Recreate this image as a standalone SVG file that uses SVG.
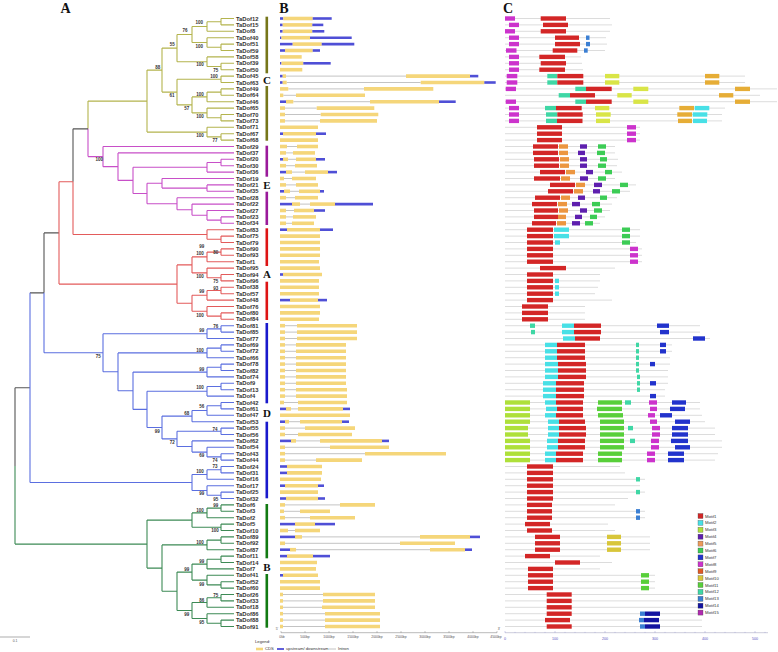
<svg xmlns="http://www.w3.org/2000/svg" width="778" height="652" viewBox="0 0 778 652">
<style>
.t{font:bold 5.8px "Liberation Sans",Arial,sans-serif;fill:#333}
.bs{font:bold 4.5px "Liberation Sans",Arial,sans-serif;fill:#333;text-anchor:middle}
.hd{font:bold 14px "Liberation Serif","Times New Roman",serif;fill:#111;text-anchor:middle}
.cl{font:bold 11px "Liberation Serif","Times New Roman",serif;fill:#111;text-anchor:middle}
.sm{font:3.4px "Liberation Sans",Arial,sans-serif;fill:#555;text-anchor:middle}
.sb{font:3.6px "Liberation Sans",Arial,sans-serif;fill:#5555c0;text-anchor:middle}
.lg{font:4.2px "Liberation Sans",Arial,sans-serif;fill:#333}
.tr{fill:none;stroke-width:1.1}
line.c{stroke:#f5d67a;stroke-width:3.6}
line.u{stroke:#4f4fd6;stroke-width:2.6}
line.i{stroke:#9a9a9a;stroke-width:0.6}
line.p{stroke:#c4c4c4;stroke-width:0.6}
line.m1,line.m2,line.m3,line.m4,line.m5,line.m6,line.m7,line.m8,line.m10,line.m11,line.m12,line.m13,line.m14,line.og,line.yl{stroke-width:4.4}
.m1{stroke:#d32626}.m2{stroke:#48e0e6}.m3{stroke:#aee03a}.m4{stroke:#5e1fae}.m5{stroke:#ec9640}.m6{stroke:#3ccc55}.m7{stroke:#2233cc}.m8{stroke:#cc33cc}.m10{stroke:#d8c63a}.m11{stroke:#58cf3a}.m12{stroke:#3fd7a5}.m13{stroke:#3b7fd3}.m14{stroke:#1414a0}.og{stroke:#e6ad36}.yl{stroke:#d9e547}
.lb{stroke:#444;stroke-width:0.3}
</style>
<rect width="778" height="652" fill="#fff"/>
<text class="hd" x="65.5" y="12.5">A</text>
<text class="hd" x="284" y="12.5">B</text>
<text class="hd" x="508" y="12.5">C</text>

<g id="connectors">
<path class="tr" stroke="#b4b44e" d="M221 18.5V24.9M221 18.5H234M221 24.9H234M207 21.7V31.3M207 21.7H221M207 31.3H234M221 44.1V50.5M221 44.1H234M221 50.5H234M207 37.7V47.3M207 37.7H234M207 47.3H221M192 26.5V42.5M192 26.5H207M192 42.5H207M221 63.3V69.7M221 63.3H234M221 69.7H234M207 56.9V66.5M207 56.9H234M207 66.5H221M177 34.5V61.7M177 34.5H192M177 61.7H207M221 76.1V82.5M221 76.1H234M221 82.5H234M221 88.9V95.3M221 88.9H234M221 95.3H234M207 92.1V101.7M207 92.1H221M207 101.7H234M221 114.5V120.9M221 114.5H234M221 120.9H234M207 108.1V117.7M207 108.1H234M207 117.7H221M192 96.9V112.9M192 96.9H207M192 112.9H207M177 79.3V104.9M177 79.3H221M177 104.9H192M162 48.1V92.1M162 48.1H177M162 92.1H177M221 133.7V140.1M221 133.7H234M221 140.1H234M207 127.3V136.9M207 127.3H234M207 136.9H221M147 70.1V132.1M147 70.1H162M147 132.1H207M88 101.1V128.85M88 101.1H147"/>
<path class="tr" stroke="#c84fc8" d="M221 159.3V165.7M221 159.3H234M221 165.7H234M207 162.5V172.1M207 162.5H221M207 172.1H234M207 184.9V191.3M207 184.9H234M207 191.3H234M162 178.5V188.1M162 178.5H234M162 188.1H207M221 216.9V223.3M221 216.9H234M221 223.3H234M207 210.5V220.1M207 210.5H234M207 220.1H221M192 204.1V215.3M192 204.1H234M192 215.3H207M177 197.7V209.7M177 197.7H234M177 209.7H192M147 183.3V203.7M147 183.3H162M147 203.7H177M133 167.3V193.5M133 167.3H207M133 193.5H147M118 152.9V180.4M118 152.9H234M118 180.4H133M103 146.5V166.65M103 146.5H234M103 166.65H118M88 128.85V156.6M88 156.6H103"/>
<path class="tr" stroke="#555" d="M73 128.85H88M73 128.85V181.7M44 232.9H59M44 232.9V292.85M30 292.85H44M15 387.7H30M15 387.7V465.9"/>
<path class="tr" stroke="#e35b5b" d="M73 181.7V234.5M73 234.5H207M221 236.1V242.5M221 236.1H234M221 242.5H234M207 229.7V239.3M207 229.7H234M207 239.3H221M221 248.9V255.3M221 248.9H234M221 255.3H234M207 252.1V261.7M207 252.1H221M207 261.7H234M221 274.5V280.9M221 274.5H234M221 280.9H234M207 268.1V277.7M207 268.1H234M207 277.7H221M192 256.9V272.9M192 256.9H207M192 272.9H207M221 287.3V293.7M221 287.3H234M221 293.7H234M207 290.5V300.1M207 290.5H221M207 300.1H234M221 312.9V319.3M221 312.9H234M221 319.3H234M207 306.5V316.1M207 306.5H234M207 316.1H221M192 295.3V311.3M192 295.3H207M192 311.3H207M177 264.9V303.3M177 264.9H192M177 303.3H192M59 181.7V284.1M59 181.7H73M59 284.1H177"/>
<path class="tr" stroke="#5b6fe0" d="M44 292.85V352.75M44 352.75H103M221 325.7V332.1M221 325.7H234M221 332.1H234M207 328.9V338.5M207 328.9H221M207 338.5H234M221 344.9V351.3M221 344.9H234M221 351.3H234M207 348.1V357.7M207 348.1H221M207 357.7H234M221 364.1V370.5M221 364.1H234M221 370.5H234M207 367.3V376.9M207 367.3H221M207 376.9H234M221 383.3V389.7M221 383.3H234M221 389.7H234M207 386.5V396.1M207 386.5H221M207 396.1H234M221 402.5V408.9M221 402.5H234M221 408.9H234M207 405.7V415.3M207 405.7H221M207 415.3H234M192 410.5V421.7M192 410.5H207M192 421.7H234M221 428.1V434.5M221 428.1H234M221 434.5H234M221 453.7V460.1M221 453.7H234M221 460.1H234M207 447.3V456.9M207 447.3H234M207 456.9H221M192 440.9V452.1M192 440.9H234M192 452.1H207M177 431.3V446.5M177 431.3H221M177 446.5H192M162 416.1V438.9M162 416.1H192M162 438.9H177M147 391.3V427.5M147 391.3H207M147 427.5H162M133 372.1V409.4M133 372.1H207M133 409.4H147M118 352.9V390.75M118 352.9H207M118 390.75H133M103 333.7V371.8M103 333.7H207M103 371.8H118M221 466.5V472.9M221 466.5H234M221 472.9H234M207 469.7V479.3M207 469.7H221M207 479.3H234M221 492.1V498.5M221 492.1H234M221 498.5H234M207 485.7V495.3M207 485.7H234M207 495.3H221M192 474.5V490.5M192 474.5H207M192 490.5H207M30 292.85V482.5M30 482.5H192"/>
<path class="tr" stroke="#3d8a55" d="M221 504.9V511.3M221 504.9H234M221 511.3H234M207 508.1V517.7M207 508.1H221M207 517.7H234M221 524.1V530.5M221 524.1H234M221 530.5H234M192 512.9V527.3M192 512.9H207M192 527.3H221M221 536.9V543.3M221 536.9H234M221 543.3H234M207 540.1V549.7M207 540.1H221M207 549.7H234M221 556.1V562.5M221 556.1H234M221 562.5H234M207 559.3V568.9M207 559.3H221M207 568.9H234M221 581.7V588.1M221 581.7H234M221 588.1H234M207 575.3V584.9M207 575.3H234M207 584.9H221M192 564.1V580.1M192 564.1H207M192 580.1H207M221 594.5V600.9M221 594.5H234M221 600.9H234M207 597.7V607.3M207 597.7H221M207 607.3H234M221 620.1V626.5M221 620.1H234M221 626.5H234M207 613.7V623.3M207 613.7H234M207 623.3H221M192 602.5V618.5M192 602.5H207M192 618.5H207M177 572.1V610.5M177 572.1H192M177 610.5H192M162 544.9V591.3M162 544.9H207M162 591.3H177M147 520.1V568.1M147 520.1H192M147 568.1H162M15 465.9V544.1M15 544.1H147"/>
</g>

<g id="bootstrap">
<text class="bs" x="199.3" y="23.8">100</text><text class="bs" x="185" y="31.5">76</text><text class="bs" x="172.3" y="46.2">55</text><text class="bs" x="199.3" y="47.5">100</text><text class="bs" x="157.7" y="68.5">88</text><text class="bs" x="200" y="65.8">100</text><text class="bs" x="215.7" y="71.5">75</text><text class="bs" x="214" y="77.8">100</text><text class="bs" x="172" y="96.8">61</text><text class="bs" x="200" y="95.8">100</text><text class="bs" x="186.7" y="109.5">57</text><text class="bs" x="200" y="117.5">100</text><text class="bs" x="200" y="137.2">100</text><text class="bs" x="215" y="141.5">77</text><text class="bs" x="99.3" y="160.8">100</text>
<text class="bs" x="201.7" y="247.5">99</text><text class="bs" x="215.7" y="253.8">80</text><text class="bs" x="200" y="254.8">100</text><text class="bs" x="200" y="278.2">100</text><text class="bs" x="215.7" y="282.8">75</text><text class="bs" x="215.7" y="289.5">93</text><text class="bs" x="201.7" y="293.2">99</text><text class="bs" x="200" y="316.5">100</text>
<text class="bs" x="215.7" y="327.5">76</text><text class="bs" x="201.7" y="331.5">99</text><text class="bs" x="200" y="351.5">100</text><text class="bs" x="98.3" y="358.2">75</text><text class="bs" x="201.7" y="370.8">99</text><text class="bs" x="200" y="389.2">100</text><text class="bs" x="201.7" y="408.2">56</text><text class="bs" x="186.7" y="414.8">68</text><text class="bs" x="215" y="430.5">74</text><text class="bs" x="157.3" y="433.2">99</text>
<text class="bs" x="172.3" y="444.2">72</text><text class="bs" x="201.7" y="457.2">69</text><text class="bs" x="215" y="462.2">74</text><text class="bs" x="215" y="468.2">73</text><text class="bs" x="200" y="473.2">100</text><text class="bs" x="201.7" y="494.8">99</text><text class="bs" x="215.7" y="500.5">95</text><text class="bs" x="215.7" y="506.5">99</text><text class="bs" x="200" y="512.2">100</text><text class="bs" x="215" y="531.5">100</text>
<text class="bs" x="200" y="543.8">100</text><text class="bs" x="201.7" y="562.5">99</text><text class="bs" x="186.7" y="570.8">99</text><text class="bs" x="201.7" y="585.8">99</text><text class="bs" x="215.7" y="596.5">75</text><text class="bs" x="201.7" y="601.5">86</text><text class="bs" x="186.7" y="615.8">99</text><text class="bs" x="201.7" y="623.8">95</text>
</g>

<g id="clades">
<rect x="265.5" y="16.7" width="2.6" height="56.6" fill="#76761a"/><rect x="265.5" y="86" width="2.6" height="54.7" fill="#76761a"/><text class="cl" x="267" y="83.5">C</text>
<rect x="265.5" y="145.7" width="2.6" height="31" fill="#9a1a9a"/><rect x="265.5" y="191.7" width="2.6" height="33.3" fill="#9a1a9a"/><text class="cl" x="267" y="188.5">E</text>
<rect x="265.5" y="228.3" width="2.6" height="37.7" fill="#dd1414"/><rect x="265.5" y="281.7" width="2.6" height="38.3" fill="#dd1414"/><text class="cl" x="267" y="277.5">A</text>
<rect x="265.5" y="323" width="2.6" height="80.3" fill="#1a1acc"/><rect x="265.5" y="421.7" width="2.6" height="76.6" fill="#1a1acc"/><text class="cl" x="267" y="416.5">D</text>
<rect x="265.5" y="504" width="2.6" height="54.3" fill="#127a12"/><rect x="265.5" y="574" width="2.6" height="53.7" fill="#127a12"/><text class="cl" x="267" y="570.5">B</text>
</g>

<g id="TaDof12" transform="translate(0 18.5)"><text class="t" x="236" y="2">TaDof12</text><line class="u" x1="280" x2="283.3"/><line class="c" x1="283.3" x2="312.7"/><line class="u" x1="312.7" x2="331.7"/><line class="p" x1="505" x2="610"/><line class="m8" x1="505" x2="515"/><line class="m1" x1="540.7" x2="566"/></g>
<g id="TaDof15" transform="translate(0 24.9)"><text class="t" x="236" y="2">TaDof15</text><line class="u" x1="280" x2="282.7"/><line class="c" x1="282.7" x2="312.3"/><line class="u" x1="312.3" x2="323.3"/><line class="p" x1="505" x2="612"/><line class="m8" x1="509" x2="519"/><line class="m1" x1="543" x2="568"/></g>
<g id="TaDof8" transform="translate(0 31.3)"><text class="t" x="236" y="2">TaDof8</text><line class="u" x1="280" x2="282.7"/><line class="c" x1="282.7" x2="312.3"/><line class="u" x1="312.3" x2="324.3"/><line class="p" x1="505" x2="610"/><line class="m8" x1="505" x2="515"/><line class="m1" x1="540.7" x2="566"/></g>
<g id="TaDof40" transform="translate(0 37.7)"><text class="t" x="236" y="2">TaDof40</text><line class="u" x1="280" x2="281.5"/><line class="c" x1="281.5" x2="310"/><line class="u" x1="310" x2="351.7"/><line class="p" x1="505" x2="606"/><line class="m8" x1="509" x2="519"/><line class="m1" x1="555" x2="579"/><line class="m13" x1="586" x2="589.5"/></g>
<g id="TaDof51" transform="translate(0 44.1)"><text class="t" x="236" y="2">TaDof51</text><line class="u" x1="280" x2="292.7"/><line class="c" x1="292.7" x2="321.7"/><line class="u" x1="321.7" x2="354.3"/><line class="p" x1="505" x2="607"/><line class="m8" x1="509" x2="519"/><line class="m1" x1="555" x2="580"/><line class="m13" x1="586" x2="590"/></g>
<g id="TaDof59" transform="translate(0 50.5)"><text class="t" x="236" y="2">TaDof59</text><line class="u" x1="280" x2="285"/><line class="c" x1="285" x2="312.7"/><line class="u" x1="312.7" x2="320"/><line class="p" x1="505" x2="605"/><line class="m8" x1="506" x2="516.5"/><line class="m1" x1="552.7" x2="577.3"/><line class="m13" x1="584" x2="587.7"/></g>
<g id="TaDof58" transform="translate(0 56.9)"><text class="t" x="236" y="2">TaDof58</text><line class="c" x1="280" x2="301.7"/><line class="p" x1="505" x2="581"/><line class="m8" x1="509" x2="519"/><line class="m1" x1="539.3" x2="565"/></g>
<g id="TaDof39" transform="translate(0 63.3)"><text class="t" x="236" y="2">TaDof39</text><line class="u" x1="280" x2="281.5"/><line class="c" x1="281.5" x2="303.3"/><line class="u" x1="303.3" x2="330.7"/><line class="p" x1="505" x2="582"/><line class="m8" x1="509" x2="519"/><line class="m1" x1="540.7" x2="566"/></g>
<g id="TaDof50" transform="translate(0 69.7)"><text class="t" x="236" y="2">TaDof50</text><line class="c" x1="280" x2="302.3"/><line class="p" x1="505" x2="583"/><line class="m8" x1="509" x2="519"/><line class="m1" x1="539.3" x2="565"/></g>
<g id="TaDof45" transform="translate(0 76.1)"><text class="t" x="236" y="2">TaDof45</text><line class="i" x1="286" x2="406"/><line class="u" x1="280" x2="282.7"/><line class="c" x1="282.7" x2="286"/><line class="c" x1="406" x2="470"/><line class="u" x1="470" x2="478.3"/><line class="p" x1="505" x2="745"/><line class="m8" x1="506.7" x2="517.3"/><line class="m12" x1="547.3" x2="557.3"/><line class="m1" x1="557.3" x2="583.3"/><line class="yl" x1="605" x2="619.3"/><line class="og" x1="705" x2="719.3"/></g>
<g id="TaDof63" transform="translate(0 82.5)"><text class="t" x="236" y="2">TaDof63</text><line class="i" x1="286.7" x2="420.7"/><line class="u" x1="280" x2="282.7"/><line class="c" x1="282.7" x2="286.7"/><line class="c" x1="420.7" x2="484.3"/><line class="u" x1="484.3" x2="495.7"/><line class="p" x1="505" x2="745"/><line class="m8" x1="506.7" x2="517.3"/><line class="m12" x1="547.3" x2="557.3"/><line class="m1" x1="557.3" x2="583.3"/><line class="yl" x1="605" x2="619.3"/><line class="og" x1="705" x2="719.3"/></g>
<g id="TaDof49" transform="translate(0 88.9)"><text class="t" x="236" y="2">TaDof49</text><line class="i" x1="288.3" x2="364"/><line class="c" x1="280" x2="288.3"/><line class="c" x1="364" x2="433.3"/><line class="p" x1="505" x2="777"/><line class="m8" x1="505.7" x2="516"/><line class="m12" x1="575.3" x2="586"/><line class="m1" x1="586" x2="611.7"/><line class="yl" x1="633.3" x2="648.3"/><line class="og" x1="735" x2="750"/></g>
<g id="TaDof64" transform="translate(0 95.3)"><text class="t" x="236" y="2">TaDof64</text><line class="i" x1="283.3" x2="296"/><line class="c" x1="280" x2="283.3"/><line class="c" x1="296" x2="365"/><line class="p" x1="505" x2="760"/><line class="m12" x1="558.7" x2="570"/><line class="m1" x1="570" x2="595"/><line class="yl" x1="617.3" x2="631.7"/><line class="og" x1="719" x2="733.3"/></g>
<g id="TaDof46" transform="translate(0 101.7)"><text class="t" x="236" y="2">TaDof46</text><line class="i" x1="293.3" x2="370"/><line class="u" x1="280" x2="286"/><line class="c" x1="286" x2="293.3"/><line class="c" x1="370" x2="439"/><line class="u" x1="439" x2="455.7"/><line class="p" x1="505" x2="777"/><line class="m8" x1="505.7" x2="516"/><line class="m12" x1="575.3" x2="586"/><line class="m1" x1="586" x2="611.7"/><line class="yl" x1="633.3" x2="648.3"/><line class="og" x1="735" x2="750"/></g>
<g id="TaDof65" transform="translate(0 108.1)"><text class="t" x="236" y="2">TaDof65</text><line class="i" x1="285" x2="316.7"/><line class="c" x1="280" x2="285"/><line class="c" x1="316.7" x2="374.3"/><line class="p" x1="505" x2="725"/><line class="m8" x1="509" x2="519"/><line class="m12" x1="545" x2="556"/><line class="m1" x1="556" x2="581.7"/><line class="yl" x1="595" x2="609.3"/><line class="og" x1="679.3" x2="694"/><line class="m2" x1="694.7" x2="709.3"/></g>
<g id="TaDof70" transform="translate(0 114.5)"><text class="t" x="236" y="2">TaDof70</text><line class="i" x1="285" x2="320.7"/><line class="c" x1="280" x2="285"/><line class="c" x1="320.7" x2="378.3"/><line class="p" x1="505" x2="722"/><line class="m8" x1="509" x2="519"/><line class="m12" x1="546" x2="557.3"/><line class="m1" x1="557.3" x2="582.7"/><line class="yl" x1="596" x2="610.7"/><line class="og" x1="677.3" x2="692"/><line class="m2" x1="692.7" x2="707.3"/></g>
<g id="TaDof73" transform="translate(0 120.9)"><text class="t" x="236" y="2">TaDof73</text><line class="i" x1="285" x2="320"/><line class="c" x1="280" x2="285"/><line class="c" x1="320" x2="377"/><line class="p" x1="505" x2="722"/><line class="m8" x1="509" x2="519"/><line class="m12" x1="546" x2="557"/><line class="m1" x1="557" x2="582.5"/><line class="yl" x1="596" x2="610"/><line class="og" x1="678" x2="692"/><line class="m2" x1="693" x2="707"/></g>
<g id="TaDof71" transform="translate(0 127.3)"><text class="t" x="236" y="2">TaDof71</text><line class="c" x1="280" x2="318"/><line class="p" x1="505" x2="640"/><line class="m1" x1="537" x2="562"/><line class="m8" x1="627" x2="636"/></g>
<g id="TaDof67" transform="translate(0 133.7)"><text class="t" x="236" y="2">TaDof67</text><line class="u" x1="280" x2="283"/><line class="c" x1="283" x2="316"/><line class="u" x1="316" x2="326"/><line class="p" x1="505" x2="640"/><line class="m1" x1="537" x2="562"/><line class="m8" x1="627" x2="636"/></g>
<g id="TaDof68" transform="translate(0 140.1)"><text class="t" x="236" y="2">TaDof68</text><line class="c" x1="280" x2="318"/><line class="p" x1="505" x2="640"/><line class="m1" x1="537" x2="562"/><line class="m8" x1="627" x2="636"/></g>
<g id="TaDof29" transform="translate(0 146.5)"><text class="t" x="236" y="2">TaDof29</text><line class="i" x1="287" x2="297"/><line class="c" x1="280" x2="287"/><line class="c" x1="297" x2="318"/><line class="p" x1="505" x2="615"/><line class="m1" x1="533" x2="558"/><line class="m5" x1="559" x2="568"/><line class="m4" x1="580" x2="587"/><line class="m6" x1="598" x2="606"/></g>
<g id="TaDof37" transform="translate(0 152.9)"><text class="t" x="236" y="2">TaDof37</text><line class="i" x1="286" x2="293"/><line class="c" x1="280" x2="286"/><line class="c" x1="293" x2="315"/><line class="p" x1="505" x2="615"/><line class="m1" x1="533" x2="558"/><line class="m5" x1="559" x2="568"/><line class="m4" x1="578" x2="585"/><line class="m6" x1="597" x2="605"/></g>
<g id="TaDof20" transform="translate(0 159.3)"><text class="t" x="236" y="2">TaDof20</text><line class="i" x1="288" x2="296"/><line class="u" x1="280" x2="283"/><line class="c" x1="283" x2="288"/><line class="c" x1="296" x2="316"/><line class="u" x1="316" x2="325"/><line class="p" x1="505" x2="618"/><line class="m1" x1="534" x2="559"/><line class="m5" x1="560" x2="569"/><line class="m4" x1="580" x2="587"/><line class="m6" x1="600" x2="607"/></g>
<g id="TaDof30" transform="translate(0 165.7)"><text class="t" x="236" y="2">TaDof30</text><line class="i" x1="286" x2="295"/><line class="c" x1="280" x2="286"/><line class="c" x1="295" x2="317"/><line class="p" x1="505" x2="617"/><line class="m1" x1="534" x2="559"/><line class="m5" x1="560" x2="569"/><line class="m4" x1="580" x2="587"/><line class="m6" x1="598" x2="606"/></g>
<g id="TaDof36" transform="translate(0 172.1)"><text class="t" x="236" y="2">TaDof36</text><line class="i" x1="292" x2="305"/><line class="u" x1="280" x2="286"/><line class="c" x1="286" x2="292"/><line class="c" x1="305" x2="328"/><line class="u" x1="328" x2="337"/><line class="p" x1="505" x2="622"/><line class="m1" x1="540" x2="565"/><line class="m5" x1="566" x2="575"/><line class="m4" x1="586" x2="593"/><line class="m6" x1="605" x2="612"/></g>
<g id="TaDof19" transform="translate(0 178.5)"><text class="t" x="236" y="2">TaDof19</text><line class="i" x1="284" x2="292"/><line class="c" x1="280" x2="284"/><line class="c" x1="292" x2="316"/><line class="p" x1="505" x2="615"/><line class="m1" x1="534" x2="560"/><line class="m5" x1="561" x2="570"/><line class="m4" x1="580" x2="588"/><line class="m6" x1="598" x2="606"/></g>
<g id="TaDof21" transform="translate(0 184.9)"><text class="t" x="236" y="2">TaDof21</text><line class="i" x1="286" x2="296"/><line class="c" x1="280" x2="286"/><line class="c" x1="296" x2="318"/><line class="p" x1="505" x2="636"/><line class="m1" x1="550" x2="575"/><line class="m5" x1="576" x2="585"/><line class="m4" x1="594" x2="602"/><line class="m6" x1="620" x2="628"/></g>
<g id="TaDof35" transform="translate(0 191.3)"><text class="t" x="236" y="2">TaDof35</text><line class="i" x1="290" x2="299"/><line class="u" x1="280" x2="284"/><line class="c" x1="284" x2="290"/><line class="c" x1="299" x2="320"/><line class="u" x1="320" x2="324"/><line class="p" x1="505" x2="630"/><line class="m1" x1="548" x2="573"/><line class="m5" x1="574" x2="583"/><line class="m4" x1="593" x2="600"/><line class="m6" x1="612" x2="620"/></g>
<g id="TaDof28" transform="translate(0 197.7)"><text class="t" x="236" y="2">TaDof28</text><line class="i" x1="286" x2="295"/><line class="c" x1="280" x2="286"/><line class="c" x1="295" x2="318"/><line class="p" x1="505" x2="617"/><line class="m1" x1="535" x2="560"/><line class="m5" x1="561" x2="570"/><line class="m4" x1="578" x2="585"/><line class="m6" x1="600" x2="607"/></g>
<g id="TaDof22" transform="translate(0 204.1)"><text class="t" x="236" y="2">TaDof22</text><line class="i" x1="300" x2="310"/><line class="u" x1="280" x2="292"/><line class="c" x1="292" x2="300"/><line class="c" x1="310" x2="335"/><line class="u" x1="335" x2="373"/><line class="p" x1="505" x2="612"/><line class="m1" x1="532" x2="557"/><line class="m5" x1="558" x2="567"/><line class="m4" x1="572" x2="580"/><line class="m6" x1="592" x2="600"/></g>
<g id="TaDof27" transform="translate(0 210.5)"><text class="t" x="236" y="2">TaDof27</text><line class="i" x1="286" x2="294"/><line class="c" x1="280" x2="286"/><line class="c" x1="294" x2="314"/><line class="u" x1="314" x2="325"/><line class="p" x1="505" x2="610"/><line class="m1" x1="534" x2="558"/><line class="m5" x1="559" x2="568"/><line class="m4" x1="580" x2="587"/><line class="m6" x1="594" x2="602"/></g>
<g id="TaDof23" transform="translate(0 216.9)"><text class="t" x="236" y="2">TaDof23</text><line class="i" x1="286" x2="293"/><line class="c" x1="280" x2="286"/><line class="c" x1="293" x2="316"/><line class="p" x1="505" x2="605"/><line class="m1" x1="534" x2="558"/><line class="m5" x1="558" x2="566"/><line class="m4" x1="575" x2="582"/><line class="m6" x1="590" x2="597"/></g>
<g id="TaDof34" transform="translate(0 223.3)"><text class="t" x="236" y="2">TaDof34</text><line class="i" x1="286" x2="292"/><line class="c" x1="280" x2="286"/><line class="c" x1="292" x2="314"/><line class="p" x1="505" x2="600"/><line class="m1" x1="532" x2="556"/><line class="m5" x1="557" x2="566"/><line class="m4" x1="572" x2="580"/><line class="m6" x1="585" x2="593"/></g>
<g id="TaDof83" transform="translate(0 229.7)"><text class="t" x="236" y="2">TaDof83</text><line class="u" x1="280" x2="287"/><line class="c" x1="287" x2="320"/><line class="u" x1="320" x2="333"/><line class="p" x1="505" x2="640"/><line class="m1" x1="527" x2="553"/><line class="m2" x1="554" x2="569"/><line class="m6" x1="622" x2="630"/></g>
<g id="TaDof75" transform="translate(0 236.1)"><text class="t" x="236" y="2">TaDof75</text><line class="c" x1="280" x2="320"/><line class="p" x1="505" x2="640"/><line class="m1" x1="527" x2="553"/><line class="m2" x1="554" x2="569"/><line class="m6" x1="622" x2="630"/></g>
<g id="TaDof79" transform="translate(0 242.5)"><text class="t" x="236" y="2">TaDof79</text><line class="c" x1="280" x2="320"/><line class="p" x1="505" x2="636"/><line class="m1" x1="527" x2="553"/><line class="m2" x1="555" x2="560"/><line class="m6" x1="622" x2="630"/></g>
<g id="TaDof90" transform="translate(0 248.9)"><text class="t" x="236" y="2">TaDof90</text><line class="c" x1="280" x2="320"/><line class="p" x1="505" x2="642"/><line class="m1" x1="527" x2="553"/><line class="m8" x1="630" x2="638"/></g>
<g id="TaDof93" transform="translate(0 255.3)"><text class="t" x="236" y="2">TaDof93</text><line class="c" x1="280" x2="320"/><line class="p" x1="505" x2="642"/><line class="m1" x1="527" x2="553"/><line class="m8" x1="630" x2="638"/></g>
<g id="TaDof1" transform="translate(0 261.7)"><text class="t" x="236" y="2">TaDof1</text><line class="c" x1="280" x2="319"/><line class="p" x1="505" x2="642"/><line class="m1" x1="527" x2="553"/><line class="m8" x1="630" x2="638"/></g>
<g id="TaDof95" transform="translate(0 268.1)"><text class="t" x="236" y="2">TaDof95</text><line class="c" x1="280" x2="320"/><line class="p" x1="505" x2="615"/><line class="m1" x1="540" x2="566"/></g>
<g id="TaDof94" transform="translate(0 274.5)"><text class="t" x="236" y="2">TaDof94</text><line class="u" x1="280" x2="283"/><line class="c" x1="283" x2="322"/><line class="p" x1="505" x2="600"/><line class="m1" x1="527" x2="553"/></g>
<g id="TaDof96" transform="translate(0 280.9)"><text class="t" x="236" y="2">TaDof96</text><line class="c" x1="280" x2="319"/><line class="p" x1="505" x2="600"/><line class="m1" x1="527" x2="553"/><line class="m2" x1="555" x2="559"/></g>
<g id="TaDof38" transform="translate(0 287.3)"><text class="t" x="236" y="2">TaDof38</text><line class="c" x1="280" x2="319"/><line class="p" x1="505" x2="598"/><line class="m1" x1="527" x2="553"/><line class="m2" x1="555" x2="559"/></g>
<g id="TaDof57" transform="translate(0 293.7)"><text class="t" x="236" y="2">TaDof57</text><line class="c" x1="280" x2="319"/><line class="p" x1="505" x2="595"/><line class="m1" x1="527" x2="553"/><line class="m2" x1="555" x2="559"/></g>
<g id="TaDof48" transform="translate(0 300.1)"><text class="t" x="236" y="2">TaDof48</text><line class="u" x1="280" x2="290"/><line class="c" x1="290" x2="318"/><line class="u" x1="318" x2="327"/><line class="p" x1="505" x2="612"/><line class="m1" x1="527" x2="553"/></g>
<g id="TaDof76" transform="translate(0 306.5)"><text class="t" x="236" y="2">TaDof76</text><line class="c" x1="280" x2="320"/><line class="p" x1="505" x2="585"/><line class="m1" x1="522" x2="548"/></g>
<g id="TaDof80" transform="translate(0 312.9)"><text class="t" x="236" y="2">TaDof80</text><line class="c" x1="280" x2="320"/><line class="p" x1="505" x2="585"/><line class="m1" x1="522" x2="548"/></g>
<g id="TaDof84" transform="translate(0 319.3)"><text class="t" x="236" y="2">TaDof84</text><line class="c" x1="280" x2="319"/><line class="p" x1="505" x2="585"/><line class="m1" x1="522" x2="548"/></g>
<g id="TaDof81" transform="translate(0 325.7)"><text class="t" x="236" y="2">TaDof81</text><line class="i" x1="285" x2="297"/><line class="c" x1="280" x2="285"/><line class="c" x1="297" x2="357"/><line class="p" x1="505" x2="700"/><line class="m12" x1="530" x2="535"/><line class="m2" x1="562" x2="574"/><line class="m1" x1="574" x2="601"/><line class="m7" x1="657" x2="669"/></g>
<g id="TaDof85" transform="translate(0 332.1)"><text class="t" x="236" y="2">TaDof85</text><line class="i" x1="285" x2="297"/><line class="c" x1="280" x2="285"/><line class="c" x1="297" x2="357"/><line class="p" x1="505" x2="700"/><line class="m12" x1="531" x2="535"/><line class="m2" x1="562" x2="574"/><line class="m1" x1="574" x2="601"/><line class="m7" x1="660" x2="669"/></g>
<g id="TaDof77" transform="translate(0 338.5)"><text class="t" x="236" y="2">TaDof77</text><line class="i" x1="285" x2="297"/><line class="c" x1="280" x2="285"/><line class="c" x1="297" x2="357"/><line class="p" x1="505" x2="710"/><line class="m2" x1="563" x2="575"/><line class="m1" x1="575" x2="600"/><line class="m7" x1="693" x2="705"/></g>
<g id="TaDof69" transform="translate(0 344.9)"><text class="t" x="236" y="2">TaDof69</text><line class="i" x1="285" x2="296"/><line class="c" x1="280" x2="285"/><line class="c" x1="296" x2="346"/><line class="p" x1="505" x2="672"/><line class="m2" x1="545" x2="557"/><line class="m1" x1="557" x2="585"/><line class="m12" x1="636" x2="639"/><line class="m7" x1="660" x2="666"/></g>
<g id="TaDof72" transform="translate(0 351.3)"><text class="t" x="236" y="2">TaDof72</text><line class="i" x1="285" x2="296"/><line class="c" x1="280" x2="285"/><line class="c" x1="296" x2="346"/><line class="p" x1="505" x2="672"/><line class="m2" x1="545" x2="557"/><line class="m1" x1="557" x2="585"/><line class="m12" x1="636" x2="639"/><line class="m7" x1="660" x2="666"/></g>
<g id="TaDof66" transform="translate(0 357.7)"><text class="t" x="236" y="2">TaDof66</text><line class="i" x1="285" x2="296"/><line class="c" x1="280" x2="285"/><line class="c" x1="296" x2="346"/><line class="p" x1="505" x2="670"/><line class="m2" x1="545" x2="557"/><line class="m1" x1="557" x2="585"/><line class="m12" x1="636" x2="639"/></g>
<g id="TaDof78" transform="translate(0 364.1)"><text class="t" x="236" y="2">TaDof78</text><line class="i" x1="285" x2="296"/><line class="c" x1="280" x2="285"/><line class="c" x1="296" x2="346"/><line class="p" x1="505" x2="670"/><line class="m2" x1="545" x2="558"/><line class="m1" x1="558" x2="586"/><line class="m12" x1="636" x2="639"/><line class="m7" x1="650" x2="655"/></g>
<g id="TaDof82" transform="translate(0 370.5)"><text class="t" x="236" y="2">TaDof82</text><line class="i" x1="285" x2="296"/><line class="c" x1="280" x2="285"/><line class="c" x1="296" x2="346"/><line class="p" x1="505" x2="668"/><line class="m2" x1="545" x2="558"/><line class="m1" x1="558" x2="586"/><line class="m12" x1="636" x2="639"/></g>
<g id="TaDof74" transform="translate(0 376.9)"><text class="t" x="236" y="2">TaDof74</text><line class="i" x1="285" x2="296"/><line class="c" x1="280" x2="285"/><line class="c" x1="296" x2="346"/><line class="p" x1="505" x2="668"/><line class="m2" x1="545" x2="558"/><line class="m1" x1="558" x2="586"/><line class="m12" x1="637" x2="640"/></g>
<g id="TaDof9" transform="translate(0 383.3)"><text class="t" x="236" y="2">TaDof9</text><line class="i" x1="285" x2="296"/><line class="c" x1="280" x2="285"/><line class="c" x1="296" x2="346"/><line class="p" x1="505" x2="668"/><line class="m2" x1="543" x2="556"/><line class="m1" x1="556" x2="584"/><line class="m12" x1="637" x2="640"/><line class="m7" x1="650" x2="656"/></g>
<g id="TaDof13" transform="translate(0 389.7)"><text class="t" x="236" y="2">TaDof13</text><line class="i" x1="285" x2="296"/><line class="c" x1="280" x2="285"/><line class="c" x1="296" x2="347"/><line class="p" x1="505" x2="665"/><line class="m2" x1="543" x2="556"/><line class="m1" x1="556" x2="584"/><line class="m12" x1="637" x2="640"/></g>
<g id="TaDof4" transform="translate(0 396.1)"><text class="t" x="236" y="2">TaDof4</text><line class="i" x1="285" x2="296"/><line class="c" x1="280" x2="285"/><line class="c" x1="296" x2="347"/><line class="p" x1="505" x2="665"/><line class="m2" x1="543" x2="556"/><line class="m1" x1="556" x2="584"/><line class="m7" x1="650" x2="656"/></g>
<g id="TaDof42" transform="translate(0 402.5)"><text class="t" x="236" y="2">TaDof42</text><line class="i" x1="284" x2="298"/><line class="c" x1="280" x2="284"/><line class="c" x1="298" x2="347"/><line class="p" x1="505" x2="700"/><line class="m3" x1="505" x2="530"/><line class="m2" x1="545" x2="556"/><line class="m1" x1="556" x2="583"/><line class="m11" x1="598" x2="622"/><line class="m12" x1="625" x2="631"/><line class="m8" x1="649" x2="657"/><line class="m7" x1="672" x2="686"/></g>
<g id="TaDof61" transform="translate(0 408.9)"><text class="t" x="236" y="2">TaDof61</text><line class="i" x1="291" x2="298"/><line class="u" x1="280" x2="286"/><line class="c" x1="286" x2="291"/><line class="c" x1="298" x2="343"/><line class="u" x1="343" x2="350"/><line class="p" x1="505" x2="700"/><line class="m3" x1="505" x2="530"/><line class="m2" x1="546" x2="557"/><line class="m1" x1="557" x2="583"/><line class="m11" x1="597" x2="622"/><line class="m8" x1="650" x2="657"/><line class="m7" x1="670" x2="685"/></g>
<g id="TaDof47" transform="translate(0 415.3)"><text class="t" x="236" y="2">TaDof47</text><line class="c" x1="280" x2="350"/><line class="p" x1="505" x2="702"/><line class="m3" x1="505" x2="530"/><line class="m2" x1="545" x2="556"/><line class="m1" x1="556" x2="583"/><line class="m11" x1="598" x2="623"/><line class="m8" x1="648" x2="655"/><line class="m7" x1="660" x2="672"/></g>
<g id="TaDof53" transform="translate(0 421.7)"><text class="t" x="236" y="2">TaDof53</text><line class="i" x1="289" x2="300"/><line class="u" x1="280" x2="285"/><line class="c" x1="285" x2="289"/><line class="c" x1="300" x2="342"/><line class="u" x1="342" x2="349"/><line class="p" x1="505" x2="705"/><line class="m3" x1="505" x2="530"/><line class="m2" x1="548" x2="559"/><line class="m1" x1="559" x2="585"/><line class="m11" x1="600" x2="624"/><line class="m8" x1="650" x2="657"/><line class="m7" x1="675" x2="690"/></g>
<g id="TaDof55" transform="translate(0 428.1)"><text class="t" x="236" y="2">TaDof55</text><line class="i" x1="285" x2="305"/><line class="c" x1="280" x2="285"/><line class="c" x1="305" x2="355"/><line class="p" x1="505" x2="715"/><line class="m3" x1="505" x2="528"/><line class="m2" x1="548" x2="559"/><line class="m1" x1="559" x2="586"/><line class="m11" x1="600" x2="624"/><line class="m12" x1="628" x2="633"/><line class="m8" x1="652" x2="660"/><line class="m7" x1="672" x2="688"/></g>
<g id="TaDof56" transform="translate(0 434.5)"><text class="t" x="236" y="2">TaDof56</text><line class="i" x1="285" x2="298"/><line class="c" x1="280" x2="285"/><line class="c" x1="298" x2="352"/><line class="p" x1="505" x2="715"/><line class="m3" x1="505" x2="528"/><line class="m2" x1="548" x2="559"/><line class="m1" x1="559" x2="586"/><line class="m11" x1="600" x2="624"/><line class="m8" x1="652" x2="660"/><line class="m7" x1="672" x2="688"/></g>
<g id="TaDof62" transform="translate(0 440.9)"><text class="t" x="236" y="2">TaDof62</text><line class="i" x1="296" x2="320"/><line class="u" x1="280" x2="291"/><line class="c" x1="291" x2="296"/><line class="c" x1="320" x2="382"/><line class="u" x1="382" x2="389"/><line class="p" x1="505" x2="722"/><line class="m3" x1="505" x2="530"/><line class="m2" x1="547" x2="558"/><line class="m1" x1="558" x2="585"/><line class="m11" x1="600" x2="624"/><line class="m12" x1="630" x2="635"/><line class="m8" x1="651" x2="659"/><line class="m7" x1="671" x2="688"/></g>
<g id="TaDof54" transform="translate(0 447.3)"><text class="t" x="236" y="2">TaDof54</text><line class="i" x1="285" x2="330"/><line class="c" x1="280" x2="285"/><line class="c" x1="330" x2="389"/><line class="p" x1="505" x2="722"/><line class="m3" x1="505" x2="530"/><line class="m2" x1="547" x2="558"/><line class="m1" x1="558" x2="585"/><line class="m11" x1="600" x2="624"/><line class="m8" x1="651" x2="659"/><line class="m7" x1="675" x2="690"/></g>
<g id="TaDof43" transform="translate(0 453.7)"><text class="t" x="236" y="2">TaDof43</text><line class="i" x1="285" x2="365"/><line class="c" x1="280" x2="285"/><line class="c" x1="365" x2="446"/><line class="p" x1="505" x2="718"/><line class="m3" x1="505" x2="530"/><line class="m2" x1="545" x2="556"/><line class="m1" x1="556" x2="583"/><line class="m11" x1="598" x2="622"/><line class="m8" x1="647" x2="655"/><line class="m7" x1="668" x2="684"/></g>
<g id="TaDof44" transform="translate(0 460.1)"><text class="t" x="236" y="2">TaDof44</text><line class="i" x1="285" x2="316"/><line class="c" x1="280" x2="285"/><line class="c" x1="316" x2="362"/><line class="p" x1="505" x2="715"/><line class="m3" x1="505" x2="530"/><line class="m2" x1="545" x2="556"/><line class="m1" x1="556" x2="583"/><line class="m11" x1="598" x2="622"/><line class="m8" x1="647" x2="655"/><line class="m7" x1="668" x2="684"/></g>
<g id="TaDof24" transform="translate(0 466.5)"><text class="t" x="236" y="2">TaDof24</text><line class="u" x1="280" x2="287"/><line class="c" x1="287" x2="322"/><line class="p" x1="505" x2="620"/><line class="m1" x1="527" x2="553"/></g>
<g id="TaDof31" transform="translate(0 472.9)"><text class="t" x="236" y="2">TaDof31</text><line class="u" x1="280" x2="287"/><line class="c" x1="287" x2="322"/><line class="p" x1="505" x2="625"/><line class="m1" x1="527" x2="553"/></g>
<g id="TaDof16" transform="translate(0 479.3)"><text class="t" x="236" y="2">TaDof16</text><line class="c" x1="280" x2="321"/><line class="p" x1="505" x2="645"/><line class="m1" x1="527" x2="553"/><line class="m12" x1="636" x2="640"/></g>
<g id="TaDof17" transform="translate(0 485.7)"><text class="t" x="236" y="2">TaDof17</text><line class="u" x1="280" x2="285"/><line class="c" x1="285" x2="318"/><line class="u" x1="318" x2="324"/><line class="p" x1="505" x2="640"/><line class="m1" x1="527" x2="553"/></g>
<g id="TaDof25" transform="translate(0 492.1)"><text class="t" x="236" y="2">TaDof25</text><line class="c" x1="280" x2="318"/><line class="p" x1="505" x2="645"/><line class="m1" x1="527" x2="553"/><line class="m12" x1="636" x2="640"/></g>
<g id="TaDof32" transform="translate(0 498.5)"><text class="t" x="236" y="2">TaDof32</text><line class="u" x1="280" x2="286"/><line class="c" x1="286" x2="318"/><line class="u" x1="318" x2="325"/><line class="p" x1="505" x2="628"/><line class="m1" x1="527" x2="553"/></g>
<g id="TaDof6" transform="translate(0 504.9)"><text class="t" x="236" y="2">TaDof6</text><line class="i" x1="285" x2="340"/><line class="c" x1="280" x2="285"/><line class="c" x1="340" x2="375"/><line class="p" x1="505" x2="615"/><line class="m1" x1="527" x2="552"/></g>
<g id="TaDof3" transform="translate(0 511.3)"><text class="t" x="236" y="2">TaDof3</text><line class="i" x1="284" x2="300"/><line class="c" x1="280" x2="284"/><line class="c" x1="300" x2="330"/><line class="p" x1="505" x2="645"/><line class="m1" x1="527" x2="552"/><line class="m13" x1="636" x2="640"/></g>
<g id="TaDof2" transform="translate(0 517.7)"><text class="t" x="236" y="2">TaDof2</text><line class="i" x1="285" x2="310"/><line class="c" x1="280" x2="285"/><line class="c" x1="310" x2="355"/><line class="p" x1="505" x2="645"/><line class="m1" x1="527" x2="552"/><line class="m13" x1="636" x2="640"/></g>
<g id="TaDof5" transform="translate(0 524.1)"><text class="t" x="236" y="2">TaDof5</text><line class="u" x1="280" x2="295"/><line class="c" x1="295" x2="315"/><line class="u" x1="315" x2="335"/><line class="p" x1="505" x2="608"/><line class="m1" x1="525" x2="550"/></g>
<g id="TaDof10" transform="translate(0 530.5)"><text class="t" x="236" y="2">TaDof10</text><line class="i" x1="288" x2="295"/><line class="c" x1="280" x2="288"/><line class="c" x1="295" x2="320"/><line class="p" x1="505" x2="615"/><line class="m1" x1="527" x2="552"/></g>
<g id="TaDof89" transform="translate(0 536.9)"><text class="t" x="236" y="2">TaDof89</text><line class="i" x1="302" x2="420"/><line class="u" x1="280" x2="295"/><line class="c" x1="295" x2="302"/><line class="c" x1="420" x2="470"/><line class="u" x1="470" x2="480"/><line class="p" x1="505" x2="650"/><line class="m1" x1="535" x2="560"/><line class="m10" x1="607" x2="621"/></g>
<g id="TaDof92" transform="translate(0 543.3)"><text class="t" x="236" y="2">TaDof92</text><line class="i" x1="285" x2="400"/><line class="c" x1="280" x2="285"/><line class="c" x1="400" x2="455"/><line class="p" x1="505" x2="650"/><line class="m1" x1="535" x2="560"/><line class="m10" x1="607" x2="621"/></g>
<g id="TaDof87" transform="translate(0 549.7)"><text class="t" x="236" y="2">TaDof87</text><line class="i" x1="296" x2="430"/><line class="u" x1="280" x2="290"/><line class="c" x1="290" x2="296"/><line class="c" x1="430" x2="465"/><line class="u" x1="465" x2="472"/><line class="p" x1="505" x2="650"/><line class="m1" x1="535" x2="560"/><line class="m10" x1="607" x2="621"/></g>
<g id="TaDof11" transform="translate(0 556.1)"><text class="t" x="236" y="2">TaDof11</text><line class="u" x1="280" x2="287"/><line class="c" x1="287" x2="313"/><line class="u" x1="313" x2="330"/><line class="p" x1="505" x2="600"/><line class="m1" x1="525" x2="550"/></g>
<g id="TaDof14" transform="translate(0 562.5)"><text class="t" x="236" y="2">TaDof14</text><line class="c" x1="280" x2="317"/><line class="p" x1="505" x2="612"/><line class="m1" x1="555" x2="580"/></g>
<g id="TaDof7" transform="translate(0 568.9)"><text class="t" x="236" y="2">TaDof7</text><line class="c" x1="280" x2="316"/><line class="p" x1="505" x2="600"/><line class="m1" x1="528" x2="553"/></g>
<g id="TaDof41" transform="translate(0 575.3)"><text class="t" x="236" y="2">TaDof41</text><line class="u" x1="280" x2="283"/><line class="c" x1="283" x2="318"/><line class="p" x1="505" x2="655"/><line class="m1" x1="528" x2="553"/><line class="m11" x1="641" x2="649"/></g>
<g id="TaDof52" transform="translate(0 581.7)"><text class="t" x="236" y="2">TaDof52</text><line class="c" x1="280" x2="320"/><line class="p" x1="505" x2="655"/><line class="m1" x1="528" x2="553"/><line class="m11" x1="641" x2="649"/></g>
<g id="TaDof60" transform="translate(0 588.1)"><text class="t" x="236" y="2">TaDof60</text><line class="c" x1="280" x2="320"/><line class="p" x1="505" x2="655"/><line class="m1" x1="528" x2="553"/><line class="m11" x1="641" x2="649"/></g>
<g id="TaDof26" transform="translate(0 594.5)"><text class="t" x="236" y="2">TaDof26</text><line class="i" x1="283" x2="323"/><line class="c" x1="280" x2="283"/><line class="c" x1="323" x2="375"/><line class="p" x1="505" x2="702"/><line class="m1" x1="546.7" x2="571.7"/></g>
<g id="TaDof33" transform="translate(0 600.9)"><text class="t" x="236" y="2">TaDof33</text><line class="i" x1="283" x2="323"/><line class="c" x1="280" x2="283"/><line class="c" x1="323" x2="375"/><line class="p" x1="505" x2="702"/><line class="m1" x1="546.7" x2="571.7"/></g>
<g id="TaDof18" transform="translate(0 607.3)"><text class="t" x="236" y="2">TaDof18</text><line class="i" x1="283" x2="322"/><line class="c" x1="280" x2="283"/><line class="c" x1="322" x2="375"/><line class="p" x1="505" x2="702"/><line class="m1" x1="546.7" x2="571.7"/></g>
<g id="TaDof86" transform="translate(0 613.7)"><text class="t" x="236" y="2">TaDof86</text><line class="i" x1="283" x2="325"/><line class="c" x1="280" x2="283"/><line class="c" x1="325" x2="380"/><line class="p" x1="505" x2="702"/><line class="m1" x1="546.7" x2="571.7"/><line class="m13" x1="640" x2="645"/><line class="m14" x1="645" x2="660"/></g>
<g id="TaDof88" transform="translate(0 620.1)"><text class="t" x="236" y="2">TaDof88</text><line class="i" x1="283" x2="325"/><line class="c" x1="280" x2="283"/><line class="c" x1="325" x2="380"/><line class="p" x1="505" x2="702"/><line class="m1" x1="545" x2="570"/><line class="m13" x1="639" x2="644"/><line class="m14" x1="644" x2="659"/></g>
<g id="TaDof91" transform="translate(0 626.5)"><text class="t" x="236" y="2">TaDof91</text><line class="i" x1="283" x2="325"/><line class="c" x1="280" x2="283"/><line class="c" x1="325" x2="380"/><line class="p" x1="505" x2="702"/><line class="m1" x1="546.7" x2="571.7"/><line class="m13" x1="640" x2="645"/><line class="m14" x1="645" x2="660"/></g>

<g id="scale-bar"><line x1="0" y1="637" x2="30" y2="637" stroke="#777" stroke-width="0.6"/><text class="sm" x="15" y="642">0.1</text></g>

<g id="axis-b" stroke="#777" stroke-width="0.5">
<line x1="281" y1="632.7" x2="497" y2="632.7"/>
<path d="M281 632.7v-1.5M305 632.7v-1.5M329 632.7v-1.5M353 632.7v-1.5M377 632.7v-1.5M401 632.7v-1.5M425 632.7v-1.5M449 632.7v-1.5M473 632.7v-1.5M497 632.7v-1.5"/>
<g stroke="none"><text class="sm" x="277" y="629.5">5'</text><text class="sm" x="499" y="629.5">3'</text>
<text class="sm" x="282" y="637.5">0kb</text><text class="sm" x="305" y="637.5">500bp</text><text class="sm" x="329" y="637.5">1000bp</text><text class="sm" x="353" y="637.5">1500bp</text><text class="sm" x="377" y="637.5">2000bp</text><text class="sm" x="401" y="637.5">2500bp</text><text class="sm" x="425" y="637.5">3000bp</text><text class="sm" x="449" y="637.5">3500bp</text><text class="sm" x="473" y="637.5">4000bp</text><text class="sm" x="496" y="637.5">4500bp</text></g>
</g>

<g id="legend-b">
<text class="lg" x="255" y="643">Legend:</text>
<line x1="256" y1="649" x2="263" y2="649" stroke="#f5d67a" stroke-width="2.6"/><text class="lg" x="265" y="650.3">CDS</text>
<line x1="277" y1="649" x2="284" y2="649" stroke="#4f4fd6" stroke-width="1.8"/><text class="lg" x="286" y="650.3">upstream/ downstream</text>
<line x1="329" y1="649" x2="336" y2="649" stroke="#9a9a9a" stroke-width="0.6"/><text class="lg" x="338" y="650.3">Intron</text>
</g>

<g id="axis-c">
<line x1="505" y1="632.7" x2="768" y2="632.7" stroke="#9a9ab8" stroke-width="0.5"/>
<path stroke="#8a8ad0" stroke-width="0.5" d="M505 632.7v-1.5M515 632.7v-0.8M525 632.7v-0.8M535 632.7v-0.8M545 632.7v-0.8M555 632.7v-1.5M565 632.7v-0.8M575 632.7v-0.8M585 632.7v-0.8M595 632.7v-0.8M605 632.7v-1.5M615 632.7v-0.8M625 632.7v-0.8M635 632.7v-0.8M645 632.7v-0.8M655 632.7v-1.5M665 632.7v-0.8M675 632.7v-0.8M685 632.7v-0.8M695 632.7v-0.8M705 632.7v-1.5M715 632.7v-0.8M725 632.7v-0.8M735 632.7v-0.8M745 632.7v-0.8M755 632.7v-1.5M765 632.7v-0.8"/>
<text class="sb" x="505" y="640">0</text><text class="sb" x="555" y="640">100</text><text class="sb" x="605" y="640">200</text><text class="sb" x="655" y="640">300</text><text class="sb" x="705" y="640">400</text><text class="sb" x="755" y="640">500</text>
</g>

<g id="legend-c">
<rect class="lb" x="698" y="513.5" width="5" height="5" fill="#d32626"/><text class="lg" x="705" y="517.5">Motif1</text>
<rect class="lb" x="698" y="520.4" width="5" height="5" fill="#48e0e6"/><text class="lg" x="705" y="524.4">Motif2</text>
<rect class="lb" x="698" y="527.3" width="5" height="5" fill="#aee03a"/><text class="lg" x="705" y="531.3">Motif3</text>
<rect class="lb" x="698" y="534.2" width="5" height="5" fill="#5e1fae"/><text class="lg" x="705" y="538.2">Motif4</text>
<rect class="lb" x="698" y="541.1" width="5" height="5" fill="#ec9a5a"/><text class="lg" x="705" y="545.1">Motif5</text>
<rect class="lb" x="698" y="548" width="5" height="5" fill="#3ccc55"/><text class="lg" x="705" y="552">Motif6</text>
<rect class="lb" x="698" y="554.9" width="5" height="5" fill="#2233cc"/><text class="lg" x="705" y="558.9">Motif7</text>
<rect class="lb" x="698" y="561.8" width="5" height="5" fill="#cc33cc"/><text class="lg" x="705" y="565.8">Motif8</text>
<rect class="lb" x="698" y="568.7" width="5" height="5" fill="#e05a24"/><text class="lg" x="705" y="572.7">Motif9</text>
<rect class="lb" x="698" y="575.6" width="5" height="5" fill="#d8c63a"/><text class="lg" x="705" y="579.6">Motif10</text>
<rect class="lb" x="698" y="582.5" width="5" height="5" fill="#58cf3a"/><text class="lg" x="705" y="586.5">Motif11</text>
<rect class="lb" x="698" y="589.4" width="5" height="5" fill="#3fd7a5"/><text class="lg" x="705" y="593.4">Motif12</text>
<rect class="lb" x="698" y="596.3" width="5" height="5" fill="#3b7fd3"/><text class="lg" x="705" y="600.3">Motif13</text>
<rect class="lb" x="698" y="603.2" width="5" height="5" fill="#1414a0"/><text class="lg" x="705" y="607.2">Motif14</text>
<rect class="lb" x="698" y="610.1" width="5" height="5" fill="#b02ab0"/><text class="lg" x="705" y="614.1">Motif15</text>
</g>
</svg>
